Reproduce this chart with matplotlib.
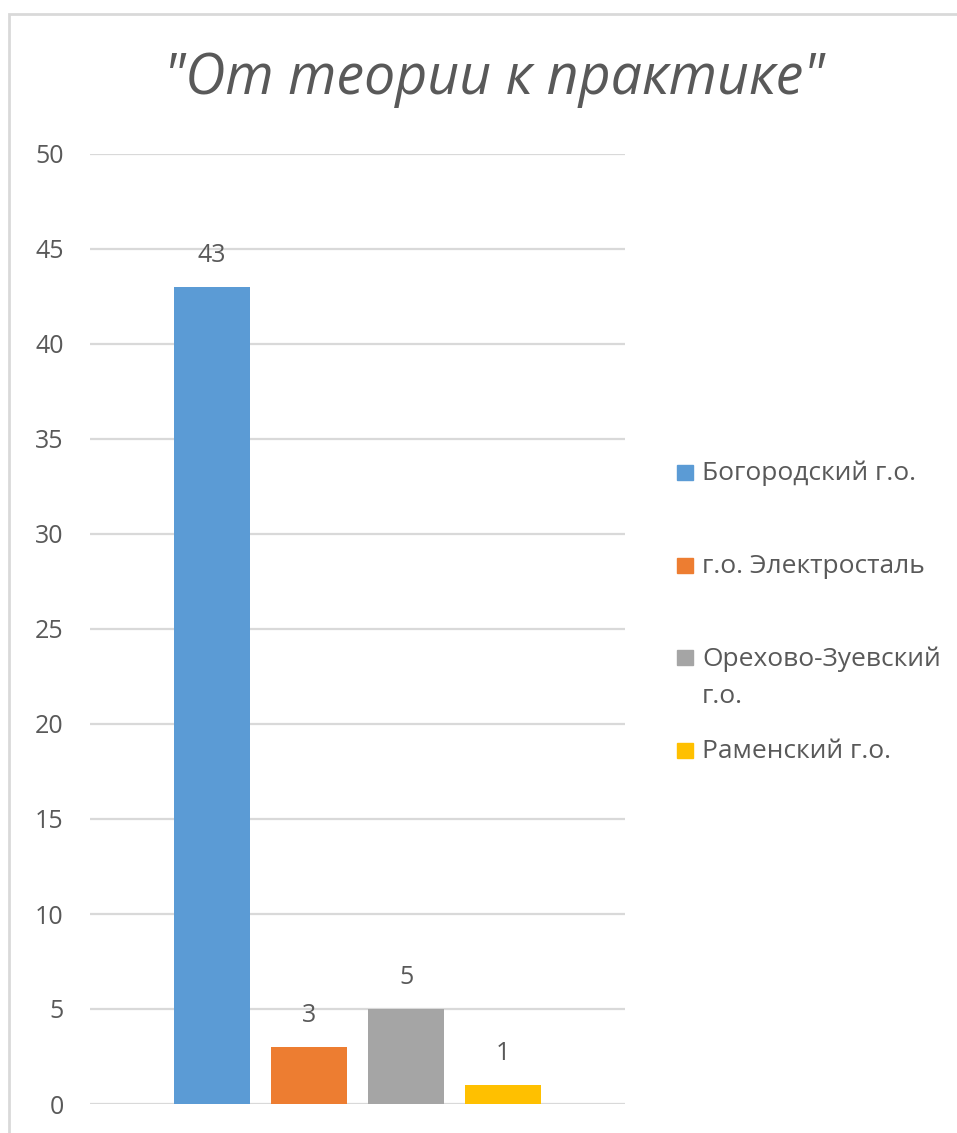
import matplotlib
matplotlib.use("Agg")
import matplotlib.pyplot as plt
import matplotlib.patches as mpatches

DISTRICTS = ["Богородский г.о.", "г.о. Электросталь", "Орехово-Зуевский\nг.о.", "Раменский г.о."]
COUNTS = [43, 3, 5, 1]
COLORS = ["#5B9BD5", "#ED7D31", "#A5A5A5", "#FFC000"]
Y_TICKS = [0, 5, 10, 15, 20, 25, 30, 35, 40, 45, 50]
TITLE = '"От теории к практике"'

TEXT = "#595959"
GRID = "#D9D9D9"

plt.rcParams["font.family"] = ["Open Sans", "DejaVu Sans"]

W, H = 957, 1133
fig = plt.figure(figsize=(W / 100, H / 100), dpi=100)
ax = fig.add_axes([90 / W, 1 - 1104 / H, (625 - 90) / W, (1104 - 154) / H])

# outer chart border (runs off right/bottom edge like the screenshot)
fig.patches.append(mpatches.Rectangle((9 / W, -0.05), 1.2, 1 - 14 / H + 0.05,
                                      transform=fig.transFigure, fill=False,
                                      edgecolor=GRID, linewidth=2))

x = list(range(len(COUNTS)))
bars = ax.bar(x, COUNTS, width=0.78, color=COLORS, zorder=3)
ax.bar_label(bars, padding=14, fontsize=18, color=TEXT)

ax.set_xlim(1.5 - 2.757, 1.5 + 2.757)
ax.set_ylim(0, 50)
ax.set_yticks(Y_TICKS)
ax.set_xticks([])
ax.yaxis.grid(True, color=GRID, linewidth=1.6, zorder=0)
ax.tick_params(axis="y", length=0, pad=19, labelsize=18, labelcolor=TEXT)
for s in ax.spines.values():
    s.set_visible(False)
ax.axhline(0, color=GRID, linewidth=2, zorder=2)
ax.set_facecolor("none")

fig.text(494 / W, 1 - 80 / H, TITLE, ha="center", va="center",
         fontsize=40, style="italic", color=TEXT)

# legend, Excel style: square marker next to first line of each entry
y_first, step = 472, 92.7
for i, (lab, col) in enumerate(zip(DISTRICTS, COLORS)):
    yc = y_first + i * step
    fig.patches.append(mpatches.Rectangle((677 / W, 1 - (yc + 8) / H), 16 / W, 15 / H,
                                          transform=fig.transFigure, color=col))
    fig.text(702 / W, 1 - (yc - 11) / H, lab, ha="left", va="top", fontsize=19,
             color=TEXT, linespacing=1.65)

fig.savefig("out.png", dpi=100, facecolor="white")
